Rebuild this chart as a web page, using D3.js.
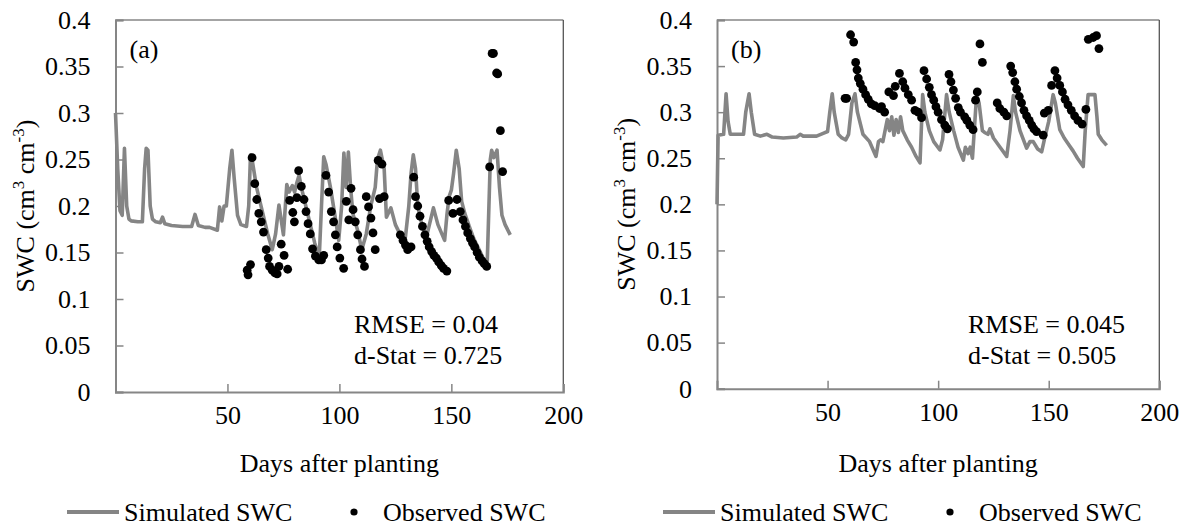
<!DOCTYPE html>
<html><head><meta charset="utf-8">
<script src="https://cdn.jsdelivr.net/npm/d3@7"></script>
<style>
html,body{margin:0;padding:0;background:#fff;}
svg{display:block;}
svg text{font-family:"Liberation Serif","Times New Roman",serif !important;}
</style></head>
<body>
<svg id="chart" width="1190" height="528"></svg>
<script>
// ---------- DATA ----------
const yTicks = [0, 0.05, 0.1, 0.15, 0.2, 0.25, 0.3, 0.35, 0.4];
const xTicks = [50, 100, 150, 200];

// Panel (a) simulated SWC [day, value]
const simA_day = [0,1,2,3,4,5,6,7,10,12,13,13.7,14.5,15.5,16.5,18,20,21,22,25,30,34,35.5,37,40,42,45.5,46.5,47.5,48.5,49.5,51,52,53,54.5,56,58.5,59.5,60.3,61,63,66,68,70,71.5,73,75,76.5,77.5,79,80,81,82,83,85,87,89,91,92,93,94,96,98,99.7,101,102,103,104,105,106,108,110,112,114,116,117,118.3,120,121,123,125,127,129.5,131,132,133,134,135,137,139,142,144,147,148,149,150,151,152.2,153.5,154.6,156,158,160,162,164,166,167.4,168,169,170.4,171.5,172.6,174,176.3];
const simA_swc = [0.30,0.24,0.195,0.19,0.262,0.20,0.186,0.184,0.183,0.183,0.24,0.262,0.26,0.20,0.186,0.183,0.182,0.188,0.181,0.179,0.178,0.178,0.191,0.179,0.177,0.177,0.174,0.199,0.184,0.2,0.2,0.24,0.26,0.23,0.19,0.18,0.178,0.2,0.255,0.25,0.22,0.19,0.17,0.153,0.17,0.201,0.169,0.223,0.215,0.222,0.215,0.225,0.233,0.22,0.2,0.18,0.16,0.145,0.2,0.253,0.245,0.22,0.19,0.163,0.2,0.257,0.22,0.258,0.22,0.192,0.175,0.153,0.17,0.2,0.22,0.25,0.26,0.24,0.188,0.198,0.18,0.17,0.167,0.2,0.235,0.255,0.24,0.2,0.178,0.168,0.198,0.18,0.163,0.19,0.21,0.217,0.235,0.26,0.24,0.205,0.192,0.178,0.165,0.155,0.145,0.137,0.25,0.26,0.252,0.26,0.22,0.19,0.18,0.169];

// Panel (a) observed SWC
const obsA_day = [58.8,59.2,60.3,61,62.2,63.1,64,65.1,66.1,67.3,68.2,68.8,70,71.2,72.2,73,74,75.3,76.9,77.8,79.2,79.9,81,81.8,83,84.2,85.1,86,87,88,89.3,90.8,92,93,94,95.2,96.4,97.4,98.2,99,100.2,101.9,103.1,104.2,105.2,106.1,107.1,108.2,109.4,110.1,111.2,112,113,114.1,115,116,117.3,117.9,119,120,127.2,128.4,129.5,130.5,132,133.2,134,135,136,137.1,138.2,139.2,140.1,141.2,142.2,143.3,144.3,145.5,146.5,148,148.8,150.7,152.5,154,155.2,156.3,157.3,158.5,159.5,160.4,161.5,162.5,163.7,164.7,165.8,167.1,168.2,168.8,170.2,170.7,171.9,172.9];
const obsA_swc = [0.131,0.126,0.137,0.252,0.224,0.207,0.192,0.183,0.172,0.153,0.144,0.135,0.131,0.128,0.127,0.135,0.159,0.147,0.132,0.206,0.193,0.183,0.209,0.238,0.221,0.207,0.194,0.181,0.170,0.154,0.146,0.142,0.142,0.147,0.233,0.215,0.194,0.183,0.169,0.156,0.144,0.133,0.205,0.185,0.219,0.196,0.183,0.169,0.153,0.143,0.135,0.210,0.199,0.187,0.171,0.153,0.249,0.208,0.245,0.210,0.169,0.163,0.158,0.153,0.156,0.231,0.210,0.200,0.189,0.178,0.169,0.162,0.156,0.151,0.147,0.144,0.140,0.136,0.133,0.130,0.206,0.192,0.207,0.194,0.185,0.178,0.171,0.165,0.160,0.156,0.150,0.145,0.141,0.138,0.135,0.242,0.364,0.364,0.343,0.342,0.281,0.237];

// Panel (b) simulated SWC
const simB_day = [0,0.5,3,4.1,5,6,12,13,14.5,15.5,17,19.6,22.6,25,30,36,37.6,39,45,48,50,51,52.1,53,54.8,56.5,58.2,59.5,61,62.4,63.5,66,69,71.9,73,74,75,77,78,79,80,81,82,83,84,86,88,90,91.8,93,94,96,98,100.8,102,103.8,105,107,109,111.4,112.3,113.5,114.5,115.5,117.4,118.5,120,121,122.5,123.4,125,128,131,132.5,134,135,137,140,141.5,143,145,146.8,148,150,152,153,155,157,159,161,163,165.6,166.5,167.8,170.9,171.8,172.4,174,176.2];
const simB_swc = [0.2,0.275,0.276,0.32,0.29,0.276,0.276,0.3,0.32,0.3,0.276,0.274,0.276,0.273,0.272,0.273,0.276,0.274,0.274,0.277,0.279,0.3,0.32,0.3,0.276,0.272,0.270,0.276,0.31,0.32,0.3,0.276,0.268,0.252,0.268,0.27,0.268,0.292,0.28,0.295,0.275,0.292,0.278,0.295,0.28,0.27,0.262,0.252,0.245,0.319,0.30,0.28,0.268,0.259,0.27,0.319,0.3,0.28,0.262,0.248,0.262,0.255,0.262,0.25,0.319,0.31,0.28,0.278,0.276,0.282,0.272,0.262,0.252,0.28,0.318,0.3,0.28,0.261,0.268,0.268,0.26,0.257,0.27,0.29,0.319,0.31,0.281,0.272,0.265,0.258,0.25,0.241,0.28,0.319,0.319,0.295,0.276,0.27,0.264];

// Panel (b) observed SWC
const obsB_day = [57.9,58.6,60.4,61.8,62.7,63.3,63.9,64.8,66,67.2,68.4,69.8,71.3,73.5,74.4,75.8,77.7,79.8,80.6,82.5,84,85,86.5,88,89.5,91,92.5,93.6,94.8,96,97,98,99,100,101.5,103,104.2,104.9,105.8,106.9,107.9,109.1,110.1,112,113,114.3,115.8,116.9,117.7,118.9,120,126.7,127.9,129.7,131,132.8,133.7,134.7,135.5,136.7,137.7,138.8,140,141.2,142.3,143.3,144.5,147.5,148,149.8,151.3,152.8,153.8,155,156.2,157.4,158.7,160.2,161.7,163.2,165.1,166.8,167.9,170.1,171.6,172.7];
const obsB_swc = [0.315,0.315,0.384,0.376,0.354,0.346,0.337,0.331,0.325,0.319,0.314,0.309,0.307,0.304,0.306,0.300,0.322,0.318,0.328,0.342,0.333,0.326,0.319,0.313,0.302,0.300,0.294,0.345,0.336,0.327,0.319,0.313,0.306,0.300,0.292,0.286,0.282,0.341,0.333,0.324,0.315,0.305,0.300,0.295,0.291,0.286,0.281,0.313,0.322,0.374,0.354,0.310,0.304,0.300,0.296,0.350,0.343,0.333,0.325,0.317,0.310,0.302,0.296,0.291,0.286,0.282,0.279,0.275,0.299,0.302,0.329,0.345,0.337,0.329,0.322,0.314,0.308,0.302,0.296,0.291,0.287,0.303,0.379,0.381,0.383,0.369];

const panelLabels = ["(a)", "(b)"];
const rmseLabels = ["RMSE = 0.04", "RMSE = 0.045"];
const dstatLabels = ["d-Stat = 0.725", "d-Stat = 0.505"];
const xTitle = "Days after planting";
const legendLabels = ["Simulated SWC", "Observed SWC"];

// ---------- DRAW ----------
const svg = d3.select("#chart");
const FONT = 26;
const FAM = "Liberation Serif";
const AXIS = "#868686";
const LINE = "#858585";

const panels = [
  {sx:[115.5,563.3], sy:[392,20], sim:[simA_day,simA_swc], obs:[obsA_day,obsA_swc], ytx:26, lab:panelLabels[0], rm:rmseLabels[0], ds:dstatLabels[0], statX:354, legX:67},
  {sx:[717,1159.3], sy:[388.7,20], sim:[simB_day,simB_swc], obs:[obsB_day,obsB_swc], ytx:627, lab:panelLabels[1], rm:rmseLabels[1], ds:dstatLabels[1], statX:968, legX:663}
];

panels.forEach(p => {
  const x = d3.scaleLinear().domain([0,200]).range(p.sx);
  const y = d3.scaleLinear().domain([0,0.4]).range(p.sy);
  const g = svg.append("g").attr("font-family",FAM).attr("fill","#000");

  // frame: top + right
  g.append("line").attr("x1",p.sx[0]).attr("x2",p.sx[1]).attr("y1",p.sy[1]).attr("y2",p.sy[1]).attr("stroke",AXIS).attr("stroke-width",1.5);
  g.append("line").attr("x1",p.sx[1]).attr("x2",p.sx[1]).attr("y1",p.sy[1]).attr("y2",p.sy[0]).attr("stroke","#555").attr("stroke-width",1.3);

  // y axis
  const ya = g.append("g").attr("transform",`translate(${p.sx[0]},0)`)
    .call(d3.axisLeft(y).tickValues(yTicks).tickSize(-8).tickPadding(25).tickFormat(d => String(+d.toFixed(2))));
  ya.attr("font-family",FAM).attr("font-size",FONT);
  ya.select(".domain").attr("stroke",AXIS).attr("stroke-width",2);
  ya.selectAll(".tick line").attr("stroke",AXIS).attr("stroke-width",1.5);
  ya.selectAll("text").attr("fill","#000");

  // x axis
  const xa = g.append("g").attr("transform",`translate(0,${p.sy[0]})`)
    .call(d3.axisBottom(x).tickValues(xTicks).tickSize(-8).tickPadding(14));
  xa.attr("font-family",FAM).attr("font-size",FONT);
  xa.select(".domain").attr("stroke",AXIS).attr("stroke-width",2);
  xa.selectAll(".tick line").attr("stroke",AXIS).attr("stroke-width",1.5);
  xa.selectAll("text").attr("fill","#000");

  // simulated line
  const simData = p.sim[0].map((d,i)=>[d,p.sim[1][i]]);
  g.append("path").datum(simData)
    .attr("d", d3.line().x(d=>x(d[0])).y(d=>y(d[1])))
    .attr("fill","none").attr("stroke",LINE).attr("stroke-width",3.6).attr("stroke-linejoin","round");

  // observed points
  const obsData = p.obs[0].map((d,i)=>[d,p.obs[1][i]]);
  g.selectAll("circle.obs").data(obsData).enter().append("circle")
    .attr("class","obs").attr("cx",d=>x(d[0])).attr("cy",d=>y(d[1])).attr("r",4.4).attr("fill","#000");

  // panel label
  g.append("text").attr("x",p.sx[0]+14).attr("y",58).attr("font-size",FONT).text(p.lab);

  // stats
  g.append("text").attr("x",p.statX).attr("y",333).attr("font-size",FONT).text(p.rm);
  g.append("text").attr("x",p.statX).attr("y",364).attr("font-size",FONT).text(p.ds);

  // x title
  g.append("text").attr("x",(p.sx[0]+p.sx[1])/2).attr("y",472).attr("text-anchor","middle").attr("font-size",FONT).text(xTitle);

  // y title
  const yt = g.append("text").attr("transform",`translate(${p.ytx+8},${(p.sy[0]+p.sy[1])/2}) rotate(-90)`)
    .attr("text-anchor","middle").attr("font-size",FONT);
  yt.append("tspan").text("SWC (cm");
  yt.append("tspan").attr("dy",-10).attr("font-size",17).text("3");
  yt.append("tspan").attr("dy",10).text(" cm");
  yt.append("tspan").attr("dy",-10).attr("font-size",17).text("-3");
  yt.append("tspan").attr("dy",10).text(")");

  // legend
  const ly = 512;
  g.append("line").attr("x1",p.legX).attr("x2",p.legX+52).attr("y1",ly).attr("y2",ly).attr("stroke",LINE).attr("stroke-width",4);
  g.append("text").attr("x",p.legX+57).attr("y",ly+9).attr("font-size",FONT).text(legendLabels[0]);
  g.append("circle").attr("cx",p.legX+287).attr("cy",ly).attr("r",3.6).attr("fill","#000");
  g.append("text").attr("x",p.legX+316).attr("y",ly+9).attr("font-size",FONT).text(legendLabels[1]);
});
</script>
</body></html>
